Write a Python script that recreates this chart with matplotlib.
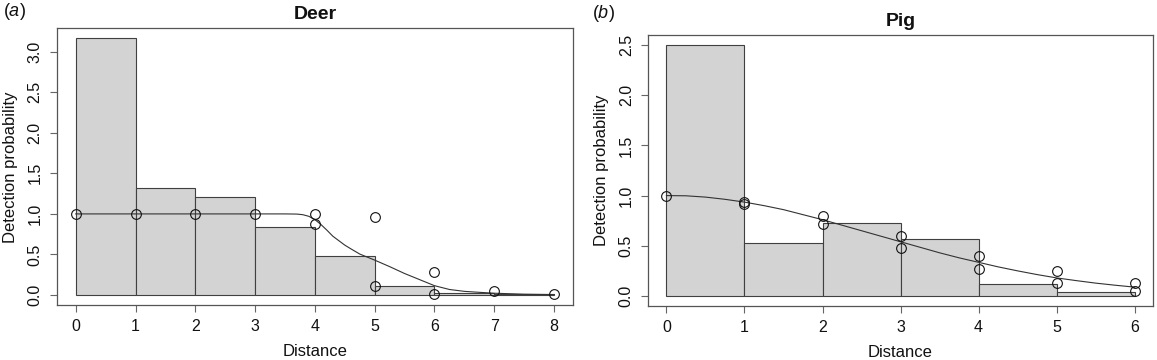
import matplotlib
matplotlib.use("Agg")
import matplotlib.pyplot as plt

plt.rcParams['font.family'] = ['Liberation Sans', 'DejaVu Sans']
plt.rcParams['mathtext.fontset'] = 'custom'
plt.rcParams['mathtext.rm'] = 'Liberation Sans'
plt.rcParams['mathtext.it'] = 'Liberation Sans:italic'

# ---- Deer data ----
deer_bin_left = [0, 1, 2, 3, 4, 5, 6, 7]
deer_bar_height = [3.165, 1.32, 1.21, 0.835, 0.487, 0.112, 0.025, 0.01]
deer_pts_x = [0, 1, 2, 3, 4, 4, 5, 5, 6, 6, 7, 8]
deer_pts_y = [1.0, 1.0, 1.0, 1.0, 1.0, 0.88, 0.965, 0.11, 0.28, 0.01, 0.05, 0.01]
deer_curve_x = [0, 1, 2, 3, 3.5, 3.7, 3.8, 3.9, 4.0, 4.1, 4.2, 4.3, 4.4, 4.5, 4.6,
                4.75, 5.0, 5.25, 5.5, 5.75, 6.0, 6.25, 6.5, 6.75, 7.0, 7.5, 8.0]
deer_curve_y = [1.0, 1.0, 1.0, 1.0, 1.0, 0.998, 0.99, 0.97, 0.93, 0.87, 0.80, 0.725,
                0.67, 0.615, 0.57, 0.505, 0.43, 0.35, 0.265, 0.19, 0.115, 0.068,
                0.045, 0.033, 0.022, 0.01, 0.005]
deer_xticks = [0, 1, 2, 3, 4, 5, 6, 7, 8]
deer_yticks = [0.0, 0.5, 1.0, 1.5, 2.0, 2.5, 3.0]

# ---- Pig data ----
pig_bin_left = [0, 1, 2, 3, 4, 5]
pig_bar_height = [2.5, 0.525, 0.722, 0.572, 0.115, 0.038]
pig_pts_x = [0, 1, 1, 2, 2, 3, 3, 4, 4, 5, 5, 6, 6]
pig_pts_y = [1.0, 0.94, 0.92, 0.80, 0.72, 0.60, 0.48, 0.40, 0.27, 0.245, 0.13, 0.13, 0.05]
pig_curve_x = [0, 0.25, 0.5, 0.75, 1.0, 1.25, 1.5, 1.75, 2.0, 2.25, 2.5, 2.75, 3.0,
               3.25, 3.5, 3.75, 4.0, 4.25, 4.5, 4.75, 5.0, 5.25, 5.5, 5.75, 6.0]
pig_curve_y = [1.0, 0.998, 0.985, 0.963, 0.935, 0.90, 0.86, 0.81, 0.76, 0.705, 0.65,
               0.595, 0.54, 0.485, 0.43, 0.38, 0.335, 0.29, 0.25, 0.213, 0.18, 0.153,
               0.128, 0.107, 0.088]
pig_xticks = [0, 1, 2, 3, 4, 5, 6]
pig_yticks = [0.0, 0.5, 1.0, 1.5, 2.0, 2.5]

W, H = 1157, 360
fig = plt.figure(figsize=(W / 100, H / 100), dpi=100)


def px_axes(x0, x1, y0, y1):
    return fig.add_axes([x0 / W, 1 - y1 / H, (x1 - x0) / W, (y1 - y0) / H])


BAR_FILL = '#D3D3D3'
BAR_EDGE = '#404040'
BOX = '#555555'


def draw(ax, bins, heights, cx, cy, px, py, xticks, yticks, xlim, ylim, title):
    ax.bar(bins, heights, width=1, align='edge', color=BAR_FILL,
           edgecolor=BAR_EDGE, linewidth=0.8, zorder=1)
    ax.plot(cx, cy, color='#333333', linewidth=0.8, zorder=2)
    ax.plot(px, py, linestyle='none', marker='o', markersize=7,
            markerfacecolor='none', markeredgecolor='#111111',
            markeredgewidth=0.8, zorder=3)
    ax.set_xlim(*xlim)
    ax.set_ylim(*ylim)
    ax.set_xticks(xticks)
    ax.set_xticklabels([str(t) for t in xticks])
    ax.set_yticks(yticks)
    ax.set_yticklabels([f'{t:.1f}' for t in yticks], rotation=90, va='center')
    for s in ax.spines.values():
        s.set_color(BOX)
        s.set_linewidth(0.9)
    ax.tick_params(direction='out', length=5, width=0.8, color='#666666',
                   labelsize=11.5, pad=5, labelcolor='#111111')
    ax.set_xlabel('Distance', fontsize=12, labelpad=7, color='#111111')
    ax.set_ylabel('Detection probability', fontsize=12, labelpad=7, color='#111111')
    ax.set_title(title, fontsize=14, fontweight='bold', pad=6.5, color='#111111')


ax1 = px_axes(56.6, 573.2, 28.3, 305.3)
draw(ax1, deer_bin_left, deer_bar_height, deer_curve_x, deer_curve_y,
     deer_pts_x, deer_pts_y, deer_xticks, deer_yticks,
     (-0.32, 8.32), (-0.127, 3.289), 'Deer')

ax2 = px_axes(647.7, 1153.4, 35.0, 306.0)
draw(ax2, pig_bin_left, pig_bar_height, pig_curve_x, pig_curve_y,
     pig_pts_x, pig_pts_y, pig_xticks, pig_yticks,
     (-0.24, 6.24), (-0.1, 2.6), 'Pig')

fig.text(3 / W, 1 - 11 / H, r'($\mathit{a}$)', fontsize=13, va='center', ha='left',
         color='#111111')
fig.text(592 / W, 1 - 13 / H, r'($\mathit{b}$)', fontsize=13, va='center', ha='left',
         color='#111111')

fig.savefig('out.png', dpi=100)
